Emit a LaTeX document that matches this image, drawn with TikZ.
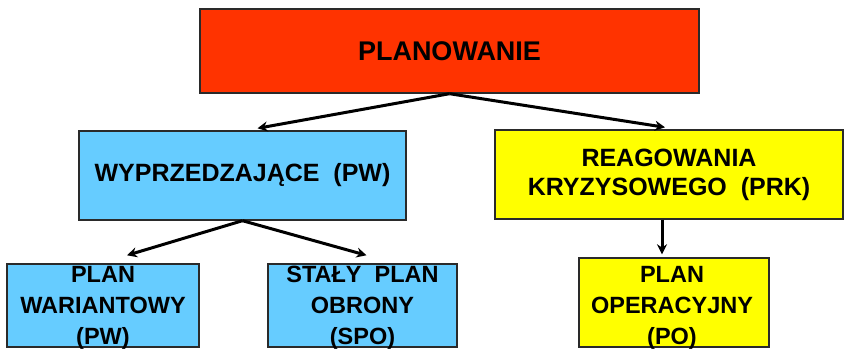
\documentclass[tikz,border=0pt]{standalone}
\usepackage{fontspec}
\setmainfont{Liberation Sans}
\usetikzlibrary{arrows.meta}
\definecolor{planred}{HTML}{FF3300}
\definecolor{planblue}{HTML}{66CCFF}
\definecolor{planyellow}{HTML}{FFFF00}
\definecolor{edge}{HTML}{2A2A2A}
\tikzset{
  box/.style={draw=edge, line width=1.4pt, inner sep=0pt, align=center},
  bigtxt/.style={font=\fontsize{27}{32}\selectfont\bfseries},
  midtxt/.style={font=\fontsize{25}{29}\selectfont\bfseries, align=center},
  smalltxt/.style={font=\fontsize{23.5}{31}\selectfont\bfseries, align=center, inner sep=0pt, anchor=north},
  arr/.style={line width=3pt, -{Stealth[length=10pt,width=10pt]}}
}
\begin{document}
\begin{tikzpicture}[x=1pt,y=-1pt]
  \useasboundingbox (0,0) rectangle (846,349);
  % top level
  \node[box, fill=planred, minimum width=499pt, minimum height=84pt, bigtxt] (plan) at (449.5,51) {PLANOWANIE};
  % second level
  \node[box, fill=planblue, minimum width=327pt, minimum height=89pt, midtxt] (pw) at (242.5,175.5) {WYPRZEDZAJĄCE\ \ (PW)};
  \node[box, fill=planyellow, minimum width=348pt, minimum height=89pt, midtxt] (prk) at (669,174.5) {REAGOWANIA\\KRYZYSOWEGO\ \ (PRK)};
  % third level boxes (cut by the lower edge)
  \node[box, fill=planblue, minimum width=192pt, minimum height=83pt] (pwar) at (103,305.5) {};
  \node[box, fill=planblue, minimum width=189pt, minimum height=83pt] (spo) at (362.5,305.5) {};
  \node[box, fill=planyellow, minimum width=190pt, minimum height=89pt] (po) at (674,302.5) {};
  % third level texts
  \node[smalltxt] (pwarT) at ([yshift=-3pt]pwar.north) {PLAN\\WARIANTOWY\\(PW)};
  \node[smalltxt] (spoT) at ([yshift=-3pt]spo.north) {STAŁY\ \ PLAN\\OBRONY\\(SPO)};
  \node[smalltxt] (poT) at ([yshift=-9pt,xshift=-2pt]po.north) {PLAN\\OPERACYJNY\\(PO)};
  % connectors
  \draw[arr] (plan.south) -- ([xshift=15pt,yshift=2pt]pw.north);
  \draw[arr] (plan.south) -- ([xshift=-4pt,yshift=2pt]prk.north);
  \draw[arr] (pw.south) -- ([xshift=24pt,yshift=8pt]pwar.north);
  \draw[arr] (pw.south) -- ([xshift=4pt,yshift=8pt]spo.north);
  \draw[arr] ([xshift=-7pt]prk.south) -- ([xshift=-12pt,yshift=3pt]po.north);
\end{tikzpicture}
\end{document}
